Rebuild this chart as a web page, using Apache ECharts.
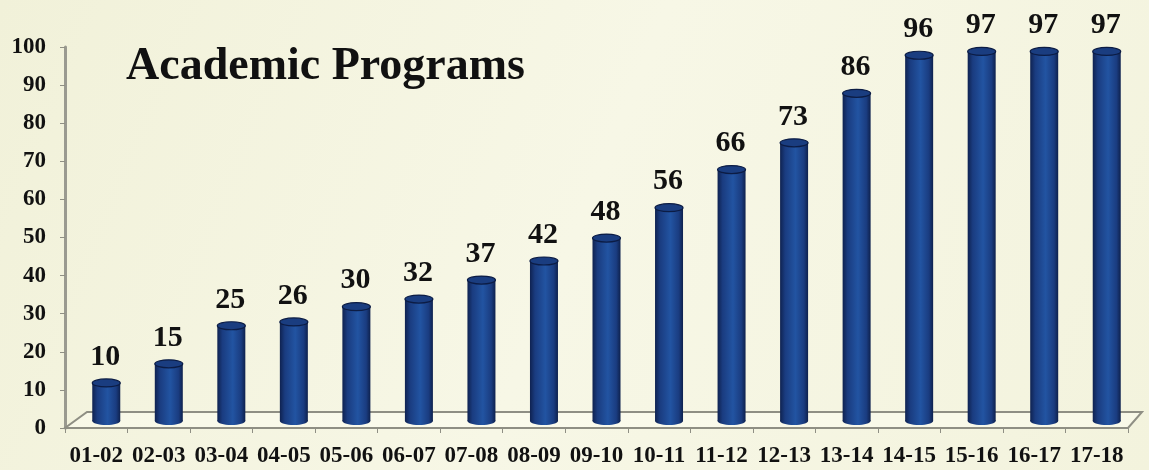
<!DOCTYPE html>
<html>
<head>
<meta charset="utf-8">
<script src="https://cdn.jsdelivr.net/npm/echarts@6/dist/echarts.min.js"></script>
<style>
  html, body { margin: 0; padding: 0; background: #f5f5e1; }
  #main { width: 1149px; height: 470px; }
</style>
</head>
<body>
<div id="main"></div>
<script>
// academic years on the x axis
const years = ['01-02', '02-03', '03-04', '04-05', '05-06', '06-07', '07-08', '08-09', '09-10',
  '10-11', '11-12', '12-13', '13-14', '14-15', '15-16', '16-17', '17-18'];
// number of programs per year
const programs = [10, 15, 25, 26, 30, 32, 37, 42, 48, 56, 66, 73, 86, 96, 97, 97, 97];
// y axis range
const yMin = 0, yMax = 100, yStep = 10;

const serif = '"Liberation Serif", "DejaVu Serif", serif';
const DX = 10, DY = -7, BAR_W = 28, RY = 4;

const chart = echarts.init(document.getElementById('main'));

const bodyGrad = new echarts.graphic.LinearGradient(0, 0, 1, 0, [
  { offset: 0, color: '#0f2250' },
  { offset: 0.18, color: '#1a3c80' },
  { offset: 0.55, color: '#2254a2' },
  { offset: 0.85, color: '#1a3c80' },
  { offset: 1, color: '#0e214d' }
]);

function renderBar(params, api) {
  const i = api.value(0), v = api.value(1);
  const base = api.coord([i, 0]);
  const top = api.coord([i, v]);
  const cx = base[0] + DX;
  const yb = base[1] + DY, yt = top[1] + DY;
  return {
    type: 'group',
    children: [
      { type: 'rect', shape: { x: cx - BAR_W / 2, y: yt, width: BAR_W, height: yb - yt }, style: { fill: bodyGrad } },
      { type: 'ellipse', shape: { cx: cx, cy: yb, rx: BAR_W / 2, ry: RY }, style: { fill: bodyGrad } },
      { type: 'ellipse', shape: { cx: cx, cy: yt, rx: BAR_W / 2, ry: RY }, style: { fill: '#1a3d80', stroke: '#0c1c44', lineWidth: 1.2 } },
      { type: 'text', style: { x: cx - 1, y: yt - 26, text: String(v), align: 'center', verticalAlign: 'middle',
          fontFamily: serif, fontWeight: 'bold', fontSize: 30, fill: '#111' } }
    ]
  };
}

function renderFloor(params, api) {
  const cs = params.coordSys;
  const x = cs.x, y = cs.y + cs.height, w = cs.width;
  return {
    type: 'polygon',
    shape: { points: [[x, y], [x + w, y], [x + w + 14, y - 16], [x + 22, y - 16]] },
    style: { fill: 'rgba(255,255,245,0.45)', stroke: '#8f8f84', lineWidth: 2 }
  };
}

const option = {
  backgroundColor: new echarts.graphic.LinearGradient(0, 0, 1, 1, [
    { offset: 0, color: '#f1f1d9' },
    { offset: 0.5, color: '#f7f7e6' },
    { offset: 1, color: '#f3f3dd' }
  ]),
  animation: false,
  title: {
    text: 'Academic Programs',
    left: 121,
    top: 39,
    textStyle: { fontFamily: serif, fontWeight: 'bold', fontSize: 46, color: '#111' }
  },
  grid: { left: 65, right: 21, top: 47, bottom: 42 },
  xAxis: {
    type: 'category',
    data: years,
    axisLine: { lineStyle: { color: '#8f8f84', width: 2 } },
    axisTick: { show: true, length: 5, lineStyle: { color: '#8f8f84' } },
    axisLabel: { interval: 0, margin: 17, fontFamily: serif, fontWeight: 'bold', fontSize: 23, color: '#111' }
  },
  yAxis: {
    type: 'value',
    min: yMin,
    max: yMax,
    interval: yStep,
    splitLine: { show: false },
    axisLine: { show: true, lineStyle: { color: '#9a9a90', width: 3 } },
    axisTick: { show: true, length: 5, lineStyle: { color: '#8f8f84' } },
    axisLabel: { margin: 19, fontFamily: serif, fontWeight: 'bold', fontSize: 23, color: '#111' }
  },
  series: [
    { type: 'custom', renderItem: renderFloor, data: [[0, 0]], z: 1, silent: true },
    { type: 'custom', renderItem: renderBar, data: programs.map((v, i) => [i, v]), z: 2 }
  ]
};

chart.setOption(option);
</script>
</body>
</html>
